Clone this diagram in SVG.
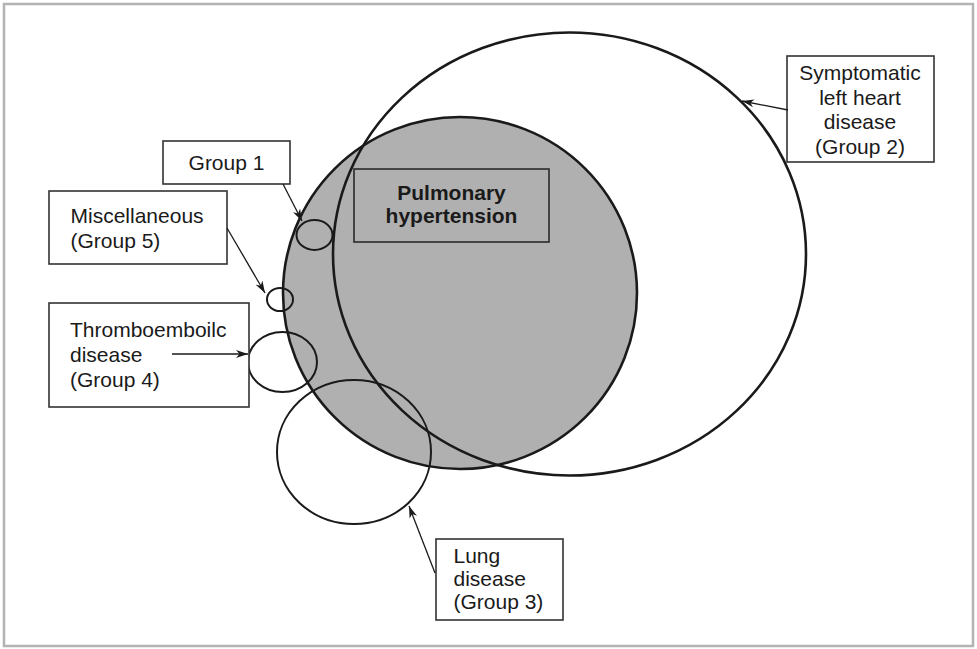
<svg xmlns="http://www.w3.org/2000/svg" width="977" height="649" viewBox="0 0 977 649">
  <defs>
    <marker id="arrow" viewBox="0 0 12 8" refX="12" refY="4" markerWidth="12" markerHeight="8" markerUnits="userSpaceOnUse" orient="auto">
      <path d="M0,0 L12,4 L0,8 L3.5,4 Z" fill="#1a1a1a"/>
    </marker>
  </defs>
  <style>
    .frame { fill: #ffffff; stroke: #b3b3b3; stroke-width: 2.5; }
    .ph { fill: #b0b0b0; stroke: #1a1a1a; stroke-width: 2.6; }
    .ring { fill: none; stroke: #1a1a1a; stroke-width: 2.6; }
    .small { fill: none; stroke: #1a1a1a; stroke-width: 2; }
    .box { fill: #ffffff; stroke: #333333; stroke-width: 1.6; }
    .box-ph { fill: none; stroke: #2a2a2a; stroke-width: 1.6; }
    .lbl { font-family: "Liberation Sans", Arial, sans-serif; font-size: 21px; fill: #1a1a1a; }
    .lbl-b { font-family: "Liberation Sans", Arial, sans-serif; font-size: 21px; font-weight: bold; fill: #1a1a1a; text-anchor: middle; }
    .mid { text-anchor: middle; }
    .conn { fill: none; stroke: #1a1a1a; stroke-width: 1.3; marker-end: url(#arrow); }
  </style>

  <!-- outer frame -->
  <rect class="frame" x="4" y="4" width="969" height="642"/>

  <!-- pulmonary hypertension: shaded disc -->
  <g id="pulmonary-hypertension">
    <ellipse class="ph" cx="460" cy="293" rx="177" ry="176"/>
    <rect class="box-ph" x="354" y="169" width="195" height="73"/>
    <text class="lbl-b" x="451.5" y="200">Pulmonary</text>
    <text class="lbl-b" x="451.5" y="223">hypertension</text>
  </g>

  <!-- group 2: symptomatic left heart disease -->
  <g id="group2">
    <ellipse class="ring" cx="569.5" cy="254" rx="236.5" ry="221.5"/>
    <rect class="box" x="787" y="56" width="147" height="106"/>
    <text class="lbl mid" x="860" y="80">Symptomatic</text>
    <text class="lbl mid" x="860" y="104.5">left heart</text>
    <text class="lbl mid" x="860" y="129">disease</text>
    <text class="lbl mid" x="860" y="153.5">(Group 2)</text>
  </g>

  <!-- group 1 -->
  <g id="group1">
    <ellipse class="small" cx="314.5" cy="235" rx="18" ry="15"/>
    <rect class="box" x="163" y="141" width="127" height="43"/>
    <text class="lbl mid" x="226.5" y="169.5">Group 1</text>
  </g>

  <!-- group 5: miscellaneous -->
  <g id="group5">
    <ellipse class="small" cx="280" cy="299.5" rx="13" ry="11.5"/>
    <rect class="box" x="49" y="191" width="178" height="73"/>
    <text class="lbl" x="70.5" y="223">Miscellaneous</text>
    <text class="lbl" x="70.5" y="248">(Group 5)</text>
  </g>

  <!-- group 4: thromboembolic disease -->
  <g id="group4">
    <ellipse class="small" cx="282.5" cy="362" rx="34.5" ry="30"/>
    <rect class="box" x="49" y="303" width="200" height="104"/>
    <text class="lbl" x="70" y="337">Thromboemboilc</text>
    <text class="lbl" x="70" y="362">disease</text>
    <text class="lbl" x="70" y="387">(Group 4)</text>
  </g>

  <!-- group 3: lung disease -->
  <g id="group3">
    <ellipse class="small" cx="354" cy="452" rx="77" ry="72"/>
    <rect class="box" x="436" y="539" width="127" height="81"/>
    <text class="lbl" x="453.5" y="563">Lung</text>
    <text class="lbl" x="453.5" y="586">disease</text>
    <text class="lbl" x="453.5" y="609">(Group 3)</text>
  </g>

  <!-- connectors -->
  <g id="connectors">
    <line class="conn" x1="283" y1="184" x2="302" y2="221"/>
    <line class="conn" x1="227" y1="228" x2="265" y2="293"/>
    <line class="conn" x1="172" y1="354" x2="248" y2="354"/>
    <line class="conn" x1="435" y1="573" x2="409" y2="506"/>
    <line class="conn" x1="788" y1="110" x2="742" y2="101"/>
  </g>
</svg>
